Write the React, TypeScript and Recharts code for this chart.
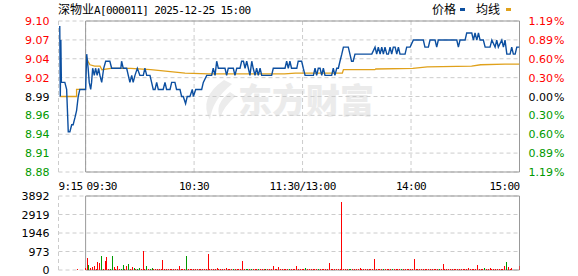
import React from "react";
import {
  ComposedChart,
  Line,
  Bar,
  XAxis,
  YAxis,
  CartesianGrid,
  ReferenceArea,
  Cell,
} from "recharts";

const stockName = "深物业";
const stockCode = "A[000011] 2025-12-25 15:00";
const prevClose = 8.99;

// tick positions, rounded labels come out as 8.88 ... 9.10
const priceTicks = [8.883, 8.9098, 8.9365, 8.9633, 8.99, 9.0167, 9.0435, 9.0702, 9.097];
const timeTicks = [-15, 0, 60, 120, 180, 240];
const timeLabels = ["9:15", "09:30", "10:30", "11:30/13:00", "14:00", "15:00"];
const volumeTicks = [0, 973, 1946, 2919, 3892];

// [minutes from 09:30, price]; negative = call auction 9:15-9:25
const pricePoints: [number, number][] = [
  [-14.3, 9.09], [-14.0, 8.99], [-13.7, 9.07], [-13.4, 9.01], [-11.5, 9.01], [-10.5, 9.0],
  [-9.6, 8.94], [-8.7, 8.94], [-7.7, 8.95], [-6.9, 8.95], [-5.9, 8.96], [-5.0, 8.97],
  [-4.1, 8.99], [-3.2, 9.0], [0, 9.0],
  [0.6, 9.05], [1.4, 9.03], [2.0, 9.01], [2.8, 9.0], [3.3, 9.01], [3.9, 9.03], [4.8, 9.02],
  [5.5, 9.03], [6.4, 9.02], [7.2, 9.03], [7.9, 9.02], [8.9, 9.01], [10.0, 9.03], [11.1, 9.04],
  [13.4, 9.04], [14.4, 9.03], [19.5, 9.03], [19.9, 9.04], [20.8, 9.03], [22.7, 9.03], [23.6, 9.02],
  [24.5, 9.01], [25.5, 9.02], [26.3, 9.01], [27.3, 9.02], [28.6, 9.03], [30.0, 9.02], [31.9, 9.02],
  [32.8, 9.03], [33.8, 9.02], [35.6, 9.02], [36.5, 9.01], [37.4, 9.0], [38.4, 9.0], [39.3, 9.01],
  [40.2, 9.0], [42.9, 9.0], [43.9, 9.01], [44.8, 9.0], [46.7, 9.0], [47.6, 9.01], [49.4, 9.01],
  [50.3, 9.0], [52.2, 9.0], [53.1, 8.99], [54.0, 8.99], [55.3, 8.98], [56.2, 8.99], [57.7, 8.99],
  [59.0, 9.0], [59.6, 8.99], [60.9, 9.0], [62.3, 9.0], [64.2, 9.0], [65.1, 9.01], [67.0, 9.02],
  [69.7, 9.02], [70.6, 9.03], [71.6, 9.02], [72.5, 9.04], [73.4, 9.03], [77.1, 9.03], [78.0, 9.02],
  [78.9, 9.03], [81.7, 9.03], [82.6, 9.02], [83.6, 9.03], [85.4, 9.03], [86.3, 9.04], [87.3, 9.04],
  [88.2, 9.03], [89.1, 9.04], [90.0, 9.03], [90.9, 9.02], [91.9, 9.04], [92.7, 9.03], [93.7, 9.02],
  [94.6, 9.03], [95.5, 9.02], [96.5, 9.03], [97.4, 9.02], [102.9, 9.02], [103.8, 9.03], [110.3, 9.03],
  [111.2, 9.04], [112.1, 9.03], [113.0, 9.04], [113.9, 9.03], [116.8, 9.03], [117.6, 9.04], [119.5, 9.04],
  [120.4, 9.03], [121.4, 9.02], [126.0, 9.02], [126.9, 9.03], [127.8, 9.02], [128.7, 9.03], [129.7, 9.03],
  [130.6, 9.02], [131.5, 9.03], [132.4, 9.02], [136.1, 9.02], [137.0, 9.03], [137.9, 9.02], [138.9, 9.03],
  [139.8, 9.03], [140.7, 9.04], [141.7, 9.05], [142.6, 9.06], [145.3, 9.06], [146.2, 9.05], [147.1, 9.04],
  [148.0, 9.04], [149.0, 9.05], [158.3, 9.05], [160.1, 9.06], [161.0, 9.05], [161.9, 9.06], [162.9, 9.05],
  [163.8, 9.06], [164.7, 9.05], [165.6, 9.06], [166.6, 9.05], [167.5, 9.05], [168.4, 9.06], [169.3, 9.05],
  [170.2, 9.06], [171.2, 9.06], [172.1, 9.05], [173.0, 9.06], [173.9, 9.05], [176.7, 9.05], [177.6, 9.06],
  [179.5, 9.06], [181.3, 9.07], [186.8, 9.07], [187.7, 9.06], [189.6, 9.06], [190.5, 9.07], [193.3, 9.07],
  [194.2, 9.06], [195.1, 9.07], [205.3, 9.07], [206.2, 9.06], [207.1, 9.07], [209.9, 9.07], [210.8, 9.08],
  [213.6, 9.08], [214.5, 9.07], [215.4, 9.08], [216.4, 9.07], [217.3, 9.08], [218.2, 9.07], [220.0, 9.07],
  [221.0, 9.06], [223.7, 9.06], [224.7, 9.07], [226.5, 9.06], [227.4, 9.07], [228.3, 9.06], [230.2, 9.07],
  [231.1, 9.06], [232.0, 9.07], [233.0, 9.05], [234.8, 9.05], [235.7, 9.06], [236.6, 9.05], [237.6, 9.05],
  [238.5, 9.06], [240, 9.06],
];

const avgAuction: [number, number][] = [
  [-14.0, 8.99], [-5.0, 8.99], [-5.0, 9.0], [0, 9.0],
];

const avgSession: [number, number][] = [
  [0.3, 9.046], [1.3, 9.04], [2.4, 9.035], [5, 9.033], [8, 9.033], [9, 9.028], [14, 9.03],
  [25, 9.03], [36, 9.028], [55, 9.023], [68, 9.022], [110, 9.022], [116, 9.023], [142, 9.023],
  [142.6, 9.028], [160, 9.028], [160.5, 9.029], [181, 9.03], [189, 9.032], [213.5, 9.033],
  [218.5, 9.035], [232, 9.036], [240, 9.036],
];

// volume per minute 09:30..15:00 (lots)
const volumes = [
  120, 647, 263, 100, 140, 200, 60, 437, 368, 736,
  60, 473, 668, 50, 60, 736, 158, 60, 210, 60,
  50, 263, 60, 210, 315, 60, 140, 122, 50, 60,
  105, 50, 1015, 60, 210, 70, 60, 105, 60, 70,
  60, 50, 70, 526, 60, 50, 60, 70, 50, 60,
  70, 50, 210, 60, 50, 60, 736, 60, 50, 60,
  70, 50, 60, 60, 50, 60, 70, 60, 842, 60,
  50, 60, 50, 100, 60, 50, 60, 60, 105, 60,
  50, 60, 50, 60, 50, 60, 50, 490, 60, 50,
  60, 50, 60, 50, 60, 50, 60, 50, 60, 50,
  60, 50, 60, 70, 210, 60, 70, 140, 60, 50,
  60, 50, 60, 70, 50, 60, 50, 210, 60, 60,
  50, 60, 105, 60, 50, 60, 50, 60, 50, 60,
  50, 60, 50, 60, 50, 368, 60, 50, 60, 50,
  60, 70, 3576, 70, 60, 60, 70, 60, 60, 50,
  60, 50, 105, 60, 50, 60, 50, 60, 50, 60,
  578, 60, 50, 60, 50, 60, 50, 60, 50, 60,
  50, 60, 50, 60, 50, 60, 50, 60, 50, 60,
  50, 60, 578, 60, 50, 60, 50, 60, 50, 60,
  50, 60, 50, 60, 50, 60, 50, 60, 315, 60,
  50, 60, 50, 60, 50, 60, 50, 60, 50, 70,
  60, 50, 105, 60, 50, 60, 50, 263, 60, 50,
  60, 105, 50, 60, 105, 60, 50, 60, 50, 60,
  50, 60, 210, 420, 158, 60, 80, 0, 0, 0,
  210,
];
// r = up tick (red), g = down tick (green)
const volumeSides =
  "rrgrrrrrrg" + "rrrrggrrrr" + "ggrrgrrgrg" + "grrrgrggrr" + "rrrrrrrrrr" +
  "rrrrrrgrrr" + "rrrrrrrrrr" + "rrrrrrrrrr" + "rrgrrrrrrg" + "grgrrrgrrr" +
  "grrrrrrrrr" + "rrrgrrrrrr" + "rrgrrrrrrg" + "rrrrrrrrrr" + "rrrrrrggrr" +
  "rrrrrrrrrr" + "rrrrrgrrrr" + "grrrrgrrrr" + "rrrrrrrrrr" + "rrrrrrgrrr" +
  "rrrrrrrrrr" + "rrrrrrrrrr" + "rgrrrrrrrr" + "rrrgrrrrrr" + "r";
const auctionVolume = { t: -4, vol: 50, side: "r" };

const RED = "#ff0000";
const GREEN = "#009900";
const PRICE_BLUE = "#0c4fa0";
const AVG_GOLD = "#e0a11b";
const GRID = "#cccccc";
const BORDER = "#999999";

const toRows = (pts: [number, number][]) => pts.map(([t, v]) => ({ t, v }));

const priceData = toRows(pricePoints);
const avgAuctionData = toRows(avgAuction);
const avgSessionData = toRows(avgSession);
const volumeData = [
  auctionVolume,
  ...volumes.map((vol, i) => ({ t: i, vol, side: volumeSides[i] })),
];

const tickFont = { fontFamily: "'DejaVu Sans', sans-serif", fontSize: 11 };
const monoFont = { fontFamily: "'DejaVu Sans Mono', monospace", fontSize: 11, letterSpacing: -0.6 };

function sideColor(v: number) {
  if (v > prevClose + 0.001) return RED;
  if (v < prevClose - 0.001) return GREEN;
  return "#000";
}

const PriceTick = (props: any) => {
  const { x, y, payload } = props;
  return (
    <text x={x} y={y} dy={4} textAnchor="end" fill={sideColor(payload.value)} style={tickFont}>
      {payload.value.toFixed(2)}
    </text>
  );
};

const PctTick = (props: any) => {
  const { x, y, payload } = props;
  const pct = Math.abs(payload.value / prevClose - 1) * 100;
  return (
    <text x={x} y={y} dy={4} textAnchor="start" fill={sideColor(payload.value)} style={tickFont}>
      {pct.toFixed(2)}
      <tspan dx={1}>%</tspan>
    </text>
  );
};

const TimeTick = (props: any) => {
  const { x, y, index } = props;
  const anchor = index <= 1 ? "start" : index === timeTicks.length - 1 ? "end" : "middle";
  const dx = index === 1 ? 1 : 0;
  return (
    <text x={x + dx} y={y} dy={10} textAnchor={anchor} fill="#000" style={monoFont}>
      {timeLabels[index]}
    </text>
  );
};

const VolTick = (props: any) => {
  const { x, y, payload } = props;
  return (
    <text x={x} y={y} dy={4} textAnchor="end" fill="#000" style={tickFont}>
      {payload.value}
    </text>
  );
};

// 1px crisp volume bar
const VolBar = (props: any) => {
  const { x, y, width, height, fill } = props;
  if (!height || height <= 0) return null;
  const cx = Math.round(x + width / 2 - 0.5);
  const top = Math.round(y);
  const bottom = Math.round(y + height);
  return <rect x={cx} y={top} width={1} height={Math.max(1, bottom - top)} fill={fill} shapeRendering="crispEdges" />;
};

export default function App() {
  return (
    <div style={{ position: "absolute", left: 0, top: 0, width: 578, height: 276, background: "#fff" }}>
      {/* watermark, title, legend */}
      <svg width={578} height={276} style={{ position: "absolute", left: 0, top: 0 }}>
        <path d="M224 80 Q198 98 210 120 Q212 100 232 84 Z" fill="#ececec" />
        <path d="M230 92 Q214 104 220 118 Q224 106 236 96 Z" fill="#ececec" />
        <text x={238} y={113} fill="#ebebeb" style={{ fontFamily: "'Noto Sans CJK SC'", fontSize: 34, fontWeight: 900 }}>
          东方财富
        </text>
        <text x={58} y={14} fill="#000">
          <tspan style={{ fontFamily: "'Noto Sans CJK SC'", fontSize: 12 }}>{stockName}</tspan>
          <tspan style={monoFont}>{stockCode}</tspan>
        </text>
        <text x={432} y={14} fill="#000" style={{ fontFamily: "'Noto Sans CJK SC'", fontSize: 12 }}>价格</text>
        <rect x={460} y={8} width={5} height={3} fill={PRICE_BLUE} />
        <text x={476} y={14} fill="#000" style={{ fontFamily: "'Noto Sans CJK SC'", fontSize: 12 }}>均线</text>
        <rect x={506} y={8} width={5} height={3} fill={AVG_GOLD} />
      </svg>

      <div style={{ position: "absolute", left: 0, top: 0 }}>
        <ComposedChart width={578} height={192} margin={{ top: 21, right: 0, bottom: 0, left: 0 }}>
          <CartesianGrid xAxisId="t" yAxisId="p" stroke={GRID} strokeDasharray="4 3" />
          <XAxis
            xAxisId="t"
            type="number"
            dataKey="t"
            domain={[-15, 240]}
            ticks={timeTicks}
            interval={0}
            height={20}
            tickLine={false}
            axisLine={false}
            tick={TimeTick}
            allowDataOverflow
          />
          <YAxis
            yAxisId="p"
            type="number"
            domain={[priceTicks[0], priceTicks[priceTicks.length - 1]]}
            ticks={priceTicks}
            interval={0}
            width={58.5}
            tickLine={false}
            axisLine={false}
            tickMargin={3}
            tick={PriceTick}
            allowDataOverflow
          />
          <YAxis
            yAxisId="pct"
            orientation="right"
            type="number"
            domain={[priceTicks[0], priceTicks[priceTicks.length - 1]]}
            ticks={priceTicks}
            interval={0}
            width={58.5}
            tickLine={false}
            axisLine={false}
            tickMargin={3}
            tick={PctTick}
            allowDataOverflow
          />
          <ReferenceArea
            xAxisId="t"
            yAxisId="p"
            x1={0}
            x2={240}
            y1={priceTicks[0]}
            y2={priceTicks[priceTicks.length - 1]}
            fill="none"
            stroke={BORDER}
            strokeOpacity={1}
          />
          <Line xAxisId="t" yAxisId="p" data={avgAuctionData} dataKey="v" type="linear" stroke={AVG_GOLD} strokeWidth={1.3} dot={false} isAnimationActive={false} />
          <Line xAxisId="t" yAxisId="p" data={avgSessionData} dataKey="v" type="linear" stroke={AVG_GOLD} strokeWidth={1.3} dot={false} isAnimationActive={false} />
          <Line xAxisId="t" yAxisId="p" data={priceData} dataKey="v" type="linear" stroke={PRICE_BLUE} strokeWidth={1.4} dot={false} isAnimationActive={false} />
        </ComposedChart>
      </div>

      <div style={{ position: "absolute", left: 0, top: 0 }}>
        <ComposedChart width={578} height={276} data={volumeData} margin={{ top: 196, right: 0, bottom: 6, left: 0 }}>
          <CartesianGrid stroke={GRID} strokeDasharray="4 3" />
          <XAxis
            type="number"
            dataKey="t"
            domain={[-15, 240]}
            ticks={timeTicks}
            interval={0}
            height={0}
            tick={false}
            tickLine={false}
            axisLine={false}
            allowDataOverflow
          />
          <YAxis
            type="number"
            domain={[0, 3892]}
            ticks={volumeTicks}
            interval={0}
            width={58.5}
            tickLine={false}
            axisLine={false}
            tickMargin={3}
            tick={VolTick}
            allowDataOverflow
          />
          <YAxis yAxisId="r" orientation="right" width={58.5} tick={false} tickLine={false} axisLine={false} />
          <ReferenceArea x1={0} x2={240} y1={0} y2={3892} fill="none" stroke={BORDER} strokeOpacity={1} />
          <Bar dataKey="vol" barSize={1} shape={VolBar} isAnimationActive={false}>
            {volumeData.map((d, i) => (
              <Cell key={i} fill={d.side === "g" ? GREEN : RED} />
            ))}
          </Bar>
        </ComposedChart>
      </div>
    </div>
  );
}
